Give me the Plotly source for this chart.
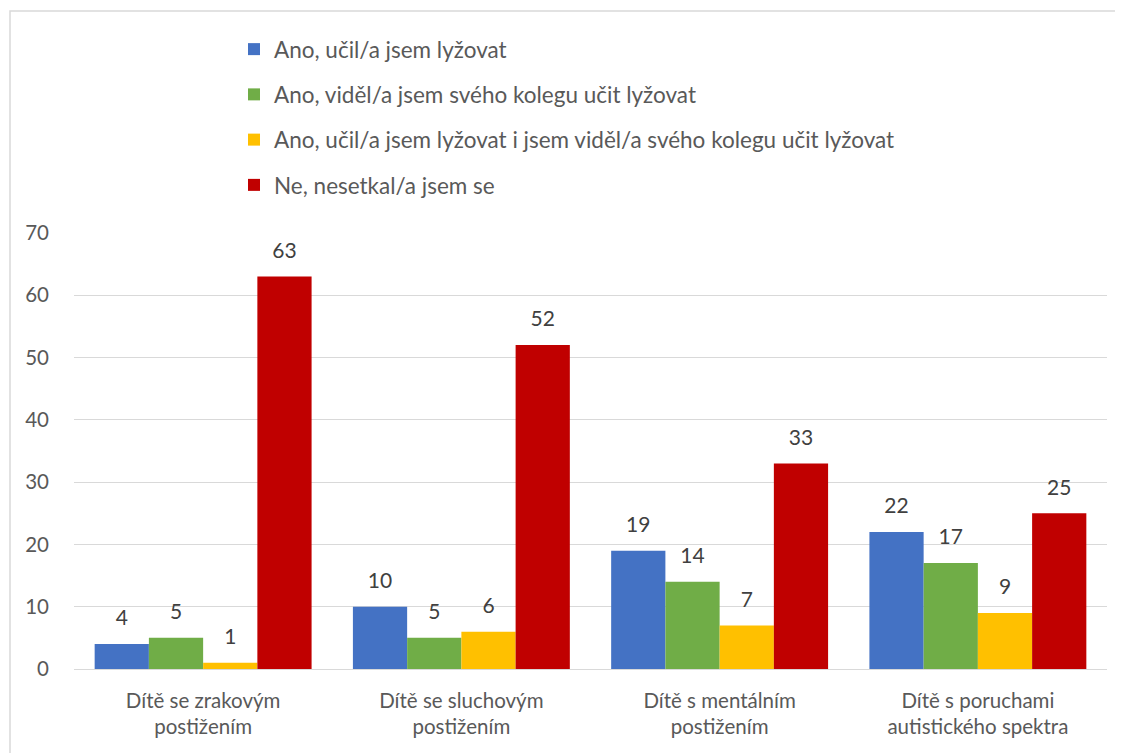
"""Grouped bar chart: encounters with teaching skiing to children with disabilities."""

import plotly.graph_objects as go

CATEGORIES = [
    "Dítě se zrakovým<br>postižením",
    "Dítě se sluchovým<br>postižením",
    "Dítě s mentálním<br>postižením",
    "Dítě s poruchami<br>autistického spektra",
]
SERIES_NAMES = [
    "Ano, učil/a jsem lyžovat",
    "Ano, viděl/a jsem svého kolegu učit lyžovat",
    "Ano, učil/a jsem lyžovat i jsem viděl/a svého kolegu učit lyžovat",
    "Ne, nesetkal/a jsem se",
]
TAUGHT = [4, 10, 19, 22]
SAW_COLLEAGUE = [5, 5, 14, 17]
BOTH = [1, 6, 7, 9]
NEVER = [63, 52, 33, 25]
COLORS = ["#4472c4", "#70ad47", "#ffc000", "#c00000"]

FONT = "Lato"
TEXT_GREY = "#595959"
LABEL_GREY = "#404040"
GRID = "#d9d9d9"
GAP = 0.16

# target plot area on screen: x 74..1107, y 233..669 (page body adds an 8px offset)
PW, PH = 1033, 436

fig = go.Figure()
for i, (name, vals) in enumerate(zip(SERIES_NAMES, [TAUGHT, SAW_COLLEAGUE, BOTH, NEVER])):
    fig.add_trace(
        go.Bar(
            x=CATEGORIES, y=vals, name=name, legendgroup=f"g{i}",
            marker=dict(color=COLORS[i], line=dict(width=0)),
            hoverinfo="skip",
        )
    )
    # value labels, grouped the same way as the bars, lifted a little above them
    fig.add_trace(
        go.Scatter(
            x=CATEGORIES, y=vals, mode="markers+text", text=vals,
            textposition="top center", showlegend=False, legendgroup=f"g{i}",
            marker=dict(size=20, opacity=0), cliponaxis=False,
            textfont=dict(family=FONT, size=21, color=LABEL_GREY),
        )
    )

fig.update_layout(
    width=1123, height=753,
    paper_bgcolor="white", plot_bgcolor="white",
    margin=dict(l=66, r=24, t=225, b=92, autoexpand=False),
    barmode="group", bargap=GAP, bargroupgap=0,
    scattermode="group", scattergap=GAP,
    font=dict(family=FONT, size=20.5, color=TEXT_GREY),
    legend=dict(
        orientation="v", traceorder="grouped", tracegroupgap=13,
        x=160 / PW, xanchor="left",
        y=(669 - 28) / PH, yanchor="top",
        font=dict(family=FONT, size=22.5, color=TEXT_GREY),
        bgcolor="rgba(0,0,0,0)",
    ),
    xaxis=dict(
        showgrid=False, showline=True, linecolor=GRID, linewidth=1,
        ticks="", tickangle=0, ticklabelstandoff=13,
        tickfont=dict(size=20.5, color=TEXT_GREY),
    ),
    yaxis=dict(
        range=[0, 70], dtick=10, showgrid=True, gridcolor=GRID, gridwidth=1,
        zeroline=False, showline=False, ticks="", ticklabelstandoff=24,
        tickfont=dict(size=20.5, color=TEXT_GREY),
    ),
    shapes=[
        dict(
            type="rect", xref="paper", yref="paper",
            x0=(10 - 74) / PW, x1=1.1, y0=-0.4, y1=(669 - 11) / PH,
            line=dict(color=GRID, width=1.5), fillcolor="rgba(0,0,0,0)", layer="below",
        )
    ],
)

fig.write_html("out.html")
